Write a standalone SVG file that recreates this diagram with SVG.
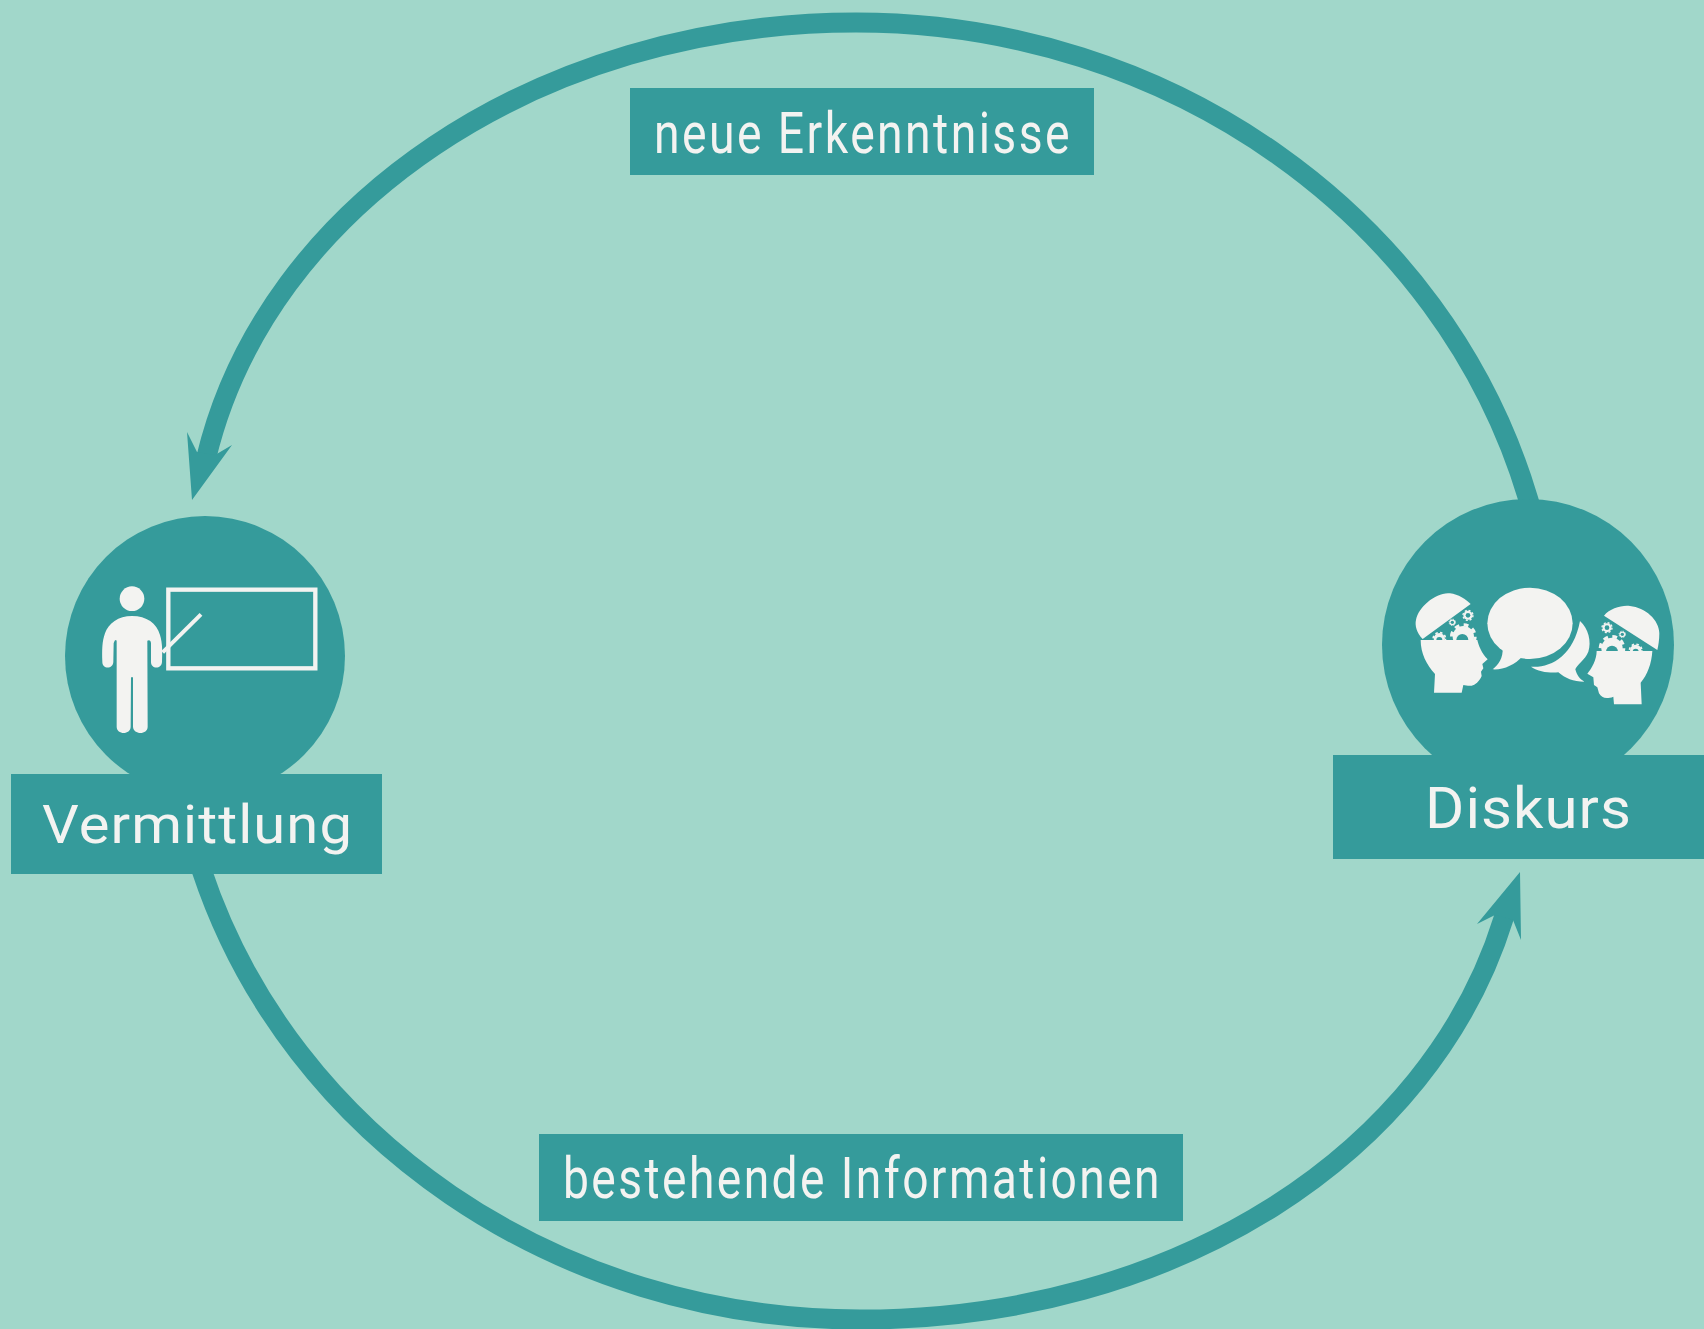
<svg xmlns="http://www.w3.org/2000/svg" width="1704" height="1329" viewBox="0 0 1704 1329">
<defs>
<style>
.t{fill:#359b9b}
.w{fill:#f3f3f1}
.arc{fill:none;stroke:#359b9b;stroke-width:20}
.lab{fill:#f3f3f1;font-family:Roboto,"Liberation Sans",sans-serif}
</style>
<g id="gear"><circle r="0.8" fill="#f3f3f1"/><circle r="0.88" fill="none" stroke="#f3f3f1" stroke-width="0.24" stroke-dasharray="0.36 0.331"/></g>
</defs>
<rect width="1704" height="1329" fill="#a1d7ca"/>
<g id="connectors">
<path class="arc" d="M1532.2,512.4 L1527.9,498 C1443.8,216.9 1169.1,22.5 856,22.5 C538.6,22.5 266.1,205.4 206,458.7"/>
<polygon class="t" points="192,500 187,432 197,452 215,455 232,445"/>
<path class="arc" d="M201.6,870 C290.3,1137.1 557.5,1319.5 860,1319.5 C1175,1319.5 1430.6,1153.8 1503.7,918 L1507,908"/>
<polygon class="t" points="1520,872 1477,924 1495,915 1513,920 1521,940"/>
</g>
<g id="node-vermittlung">
<circle class="t" cx="205" cy="656" r="140"/>
<rect class="t" x="11" y="774" width="371" height="100"/>
<g transform="translate(0,400) scale(0.33333)">
<circle class="w" cx="396" cy="596" r="37"/>
<path class="w" d="M396,648 C440,648 470,670 480,705 C488,730 487,760 486,785 C486,808 452,808 453,785 L453,730 Q452,718 442,722 L443,980 C443,1005 400,1005 399,980 L399,832 L393,832 L392,980 C392,1005 350,1005 350,980 L350,722 Q345,716 341,730 L340,785 C340,808 306,808 307,785 C306,750 306,725 315,700 C325,670 355,648 396,648 Z"/>
<rect x="505" y="569" width="441" height="236" fill="none" stroke="#f3f3f1" stroke-width="13"/>
<path d="M488,757 L603,643" fill="none" stroke="#f3f3f1" stroke-width="12"/>
</g>
<text class="lab" x="42" y="843" font-size="54" letter-spacing="1" textLength="311" lengthAdjust="spacingAndGlyphs">Vermittlung</text>
</g>
<g id="node-diskurs">
<circle class="t" cx="1528" cy="645" r="146"/>
<rect class="t" x="1333" y="755" width="371" height="104"/>
<g transform="translate(1400,570) scale(0.33333)">
<use href="#gear" transform="translate(190,200) scale(40)"/>
<use href="#gear" transform="translate(118,206) scale(21)"/>
<use href="#gear" transform="translate(204,136) scale(17)"/>
<use href="#gear" transform="translate(157,157) scale(11)"/>
<circle class="t" cx="187" cy="210" r="18"/><circle class="t" cx="118" cy="210" r="9"/>
<circle class="t" cx="204" cy="136" r="7"/><circle class="t" cx="157" cy="157" r="5"/>
<path class="w" d="M68,207 C50,190 44,165 48,150 C55,110 110,65 150,70 C175,73 198,88 212,102 Z"/>
<path class="w" d="M62,210 L232,210 C235,225 245,250 263,268 L247,282 L250,295 L243,305 L245,318 C238,335 225,345 215,347 C205,348 197,346 190,345 L185,368 L102,368 L105,312 C80,285 62,250 62,210 Z"/>
<use href="#gear" transform="translate(636,235) scale(40)"/>
<use href="#gear" transform="translate(707,241) scale(21)"/>
<use href="#gear" transform="translate(621,173) scale(17)"/>
<use href="#gear" transform="translate(667,193) scale(11)"/>
<circle class="t" cx="636" cy="245" r="18"/><circle class="t" cx="707" cy="245" r="9"/>
<circle class="t" cx="621" cy="173" r="7"/><circle class="t" cx="667" cy="193" r="5"/>
<path class="w" d="M612,137 C630,115 665,105 690,108 C735,112 778,150 778,190 C778,210 775,228 772,240 Z"/>
<path class="w" d="M590,243 L757,243 C755,280 742,315 722,338 L725,403 L642,403 L640,380 C620,388 605,385 597,370 L592,352 L582,345 L580,322 L562,311 C575,295 590,270 590,243 Z"/>
<path class="w" d="M393,290 C450,295 520,260 540,153 C565,175 575,215 565,245 C555,270 530,285 526,298 C530,315 540,328 553,335 C520,335 495,325 475,307 C450,310 415,305 393,290 Z"/>
<ellipse class="w" cx="390" cy="160" rx="128" ry="107"/>
<path class="w" d="M308,232 C310,265 295,285 278,298 C310,300 345,285 368,258 Z"/>
</g>
<text class="lab" x="1425" y="828" font-size="57" letter-spacing="1" textLength="207" lengthAdjust="spacingAndGlyphs">Diskurs</text>
</g>
<g id="label-erkenntnisse">
<rect class="t" x="630" y="88" width="464" height="87"/>
<text class="lab" x="654" y="153" font-size="57" letter-spacing="3" textLength="418" lengthAdjust="spacingAndGlyphs">neue Erkenntnisse</text>
</g>
<g id="label-informationen">
<rect class="t" x="539" y="1134" width="644" height="87"/>
<text class="lab" x="563" y="1198" font-size="57" letter-spacing="3" textLength="599" lengthAdjust="spacingAndGlyphs">bestehende Informationen</text>
</g>
</svg>
